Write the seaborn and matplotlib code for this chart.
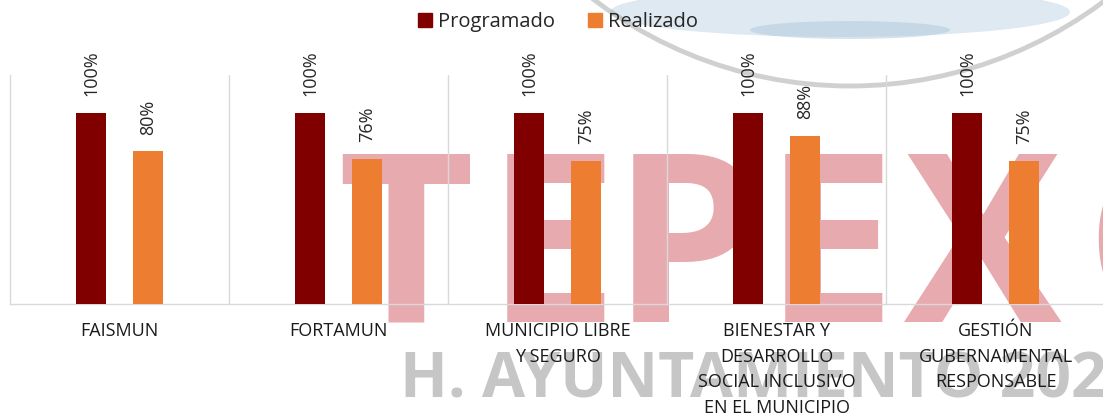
import numpy as np
import pandas as pd
import matplotlib.pyplot as plt
import seaborn as sns
from matplotlib.patches import Patch, Arc, Ellipse
from matplotlib.transforms import IdentityTransform

sns.set_style("white")
plt.rcParams["font.family"] = ["Open Sans", "DejaVu Sans"]

# data
programas = ["FAISMUN", "FORTAMUN", "MUNICIPIO LIBRE\nY SEGURO",
             "BIENESTAR Y\nDESARROLLO\nSOCIAL INCLUSIVO\nEN EL MUNICIPIO",
             "GESTIÓN\nGUBERNAMENTAL\nRESPONSABLE"]
programado = [1.00, 1.00, 1.00, 1.00, 1.00]
realizado = [0.80, 0.76, 0.75, 0.88, 0.75]
series = ["Programado", "Realizado"]
colores = ["#800000", "#ed7d31"]

df = pd.DataFrame({
    "programa": programas * 2,
    "serie": [series[0]] * len(programas) + [series[1]] * len(programas),
    "avance": programado + realizado,
})

W, H = 1103, 419
fig = plt.figure(figsize=(W / 100, H / 100), dpi=100)

# faint background watermark (logo behind the chart)
px = IdentityTransform()
fig.add_artist(Ellipse((840, H - 12), 460, 50, transform=px, color="#c9dbe9", alpha=0.6, zorder=0, lw=0))
fig.add_artist(Ellipse((850, H - 30), 200, 18, transform=px, color="#afc8dd", alpha=0.5, zorder=0, lw=0))
fig.add_artist(Arc((850, H + 337), 846, 846, theta1=180, theta2=360, transform=px,
                   color="#a6abad", lw=3.5, alpha=0.55, zorder=0))
for letra, xc in zip("TEPEXC", [406, 552, 686, 830, 983, 1160]):
    fig.text(xc / W, 1 - 322 / H, letra, ha="center", va="baseline", fontsize=170,
             fontweight="bold", color="#e7aaaf", zorder=0)
fig.text(400 / W, 1 - 397 / H, "H. AYUNTAMIENTO 202", ha="left", va="baseline",
         fontsize=45, fontweight="bold", color="#c6c6c6", zorder=0)

ax = fig.add_axes([10 / W, 1 - 304 / H, 1095 / W, 229 / H])
ax.set_zorder(2)
ax.set_facecolor("none")
sns.barplot(data=df, x="programa", y="avance", hue="serie", palette=colores,
            saturation=1, width=0.52, gap=0.47, linewidth=0, legend=False, ax=ax, zorder=3)

for cont in ax.containers:
    ax.bar_label(cont, labels=[f"{v:.0%}" for v in cont.datavalues], rotation=90,
                 padding=12, fontsize=13, color="#262626")

ax.set_ylim(0, 1.2)
ax.set_xlim(-0.5, len(programas) - 0.5)
ax.set_yticks([])
ax.set_xlabel("")
ax.set_ylabel("")
ax.set_xticks(np.arange(0.5, len(programas) - 0.5), minor=True)
ax.grid(which="minor", axis="x", color="#d9d9d9", lw=1)
ax.tick_params(axis="x", which="both", length=0, pad=13, labelsize=13, labelcolor="#1a1a1a")
plt.setp(ax.get_xticklabels(), linespacing=1.55)
for s in ["top", "right"]:
    ax.spines[s].set_visible(False)
for s in ["left", "bottom"]:
    ax.spines[s].set_color("#d9d9d9")
    ax.spines[s].set_linewidth(1)

handles = [Patch(color=c, label=s) for s, c in zip(series, colores)]
fig.legend(handles=handles, loc="center", bbox_to_anchor=(558 / W, 1 - 22 / H), ncol=2,
           frameon=False, fontsize=14.5, handlelength=0.7, handleheight=0.7,
           handletextpad=0.3, columnspacing=1.6)

fig.savefig("out.png", dpi=100)
